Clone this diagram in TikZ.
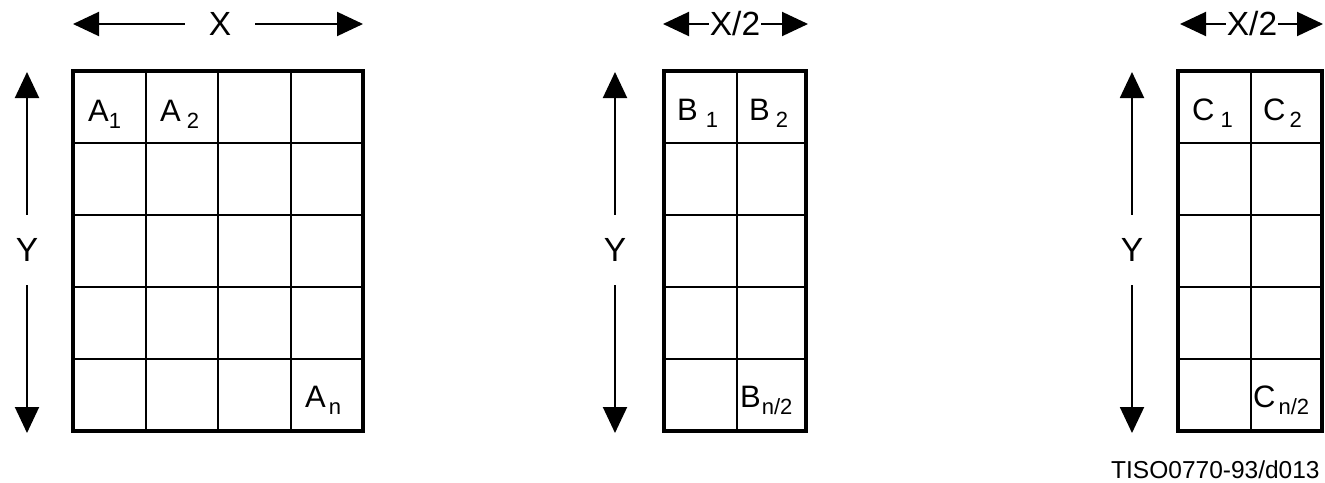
\documentclass[tikz,border=0pt]{standalone}
\usepackage{fontspec}
\setmainfont{Liberation Sans}
\usetikzlibrary{arrows.meta}
\newcommand\cellsub[3]{#1\kern#2pt\raisebox{-7pt}{\fontsize{22}{22}\selectfont #3}}
\begin{document}
\begin{tikzpicture}[x=1pt,y=-1pt,
  arr/.style={line width=2pt,-{Triangle[length=26pt,width=24pt]}},
  big/.style={font=\fontsize{33.5}{36}\selectfont,inner sep=0pt},
  cell/.style={anchor=base west,inner sep=0pt,font=\fontsize{31}{33}\selectfont},
  outerline/.style={line width=4pt},
  innerline/.style={line width=2pt}]
\useasboundingbox (0,0) rectangle (1325,482);

% ---------- Grid A ----------
\foreach \x in {145.5,218,290.5} \draw[innerline] (\x,71) -- (\x,431);
\foreach \y in {143,215,287,359} \draw[innerline] (73,\y) -- (363,\y);
\draw[outerline] (73,71) rectangle (363,431);

% ---------- Grid B ----------
\draw[innerline] (736.5,71) -- (736.5,431);
\foreach \y in {143,215,287,359} \draw[innerline] (664,\y) -- (806,\y);
\draw[outerline] (664,71) rectangle (806,431);

% ---------- Grid C ----------
\draw[innerline] (1251,71) -- (1251,431);
\foreach \y in {143,215,287,359} \draw[innerline] (1178,\y) -- (1322,\y);
\draw[outerline] (1178,71) rectangle (1322,431);

% ---------- cell labels ----------
\node[cell] (a1) at (88,121) {\cellsub{A}{0}{1}};
\node[cell] (a2) at (160,121) {\cellsub{A}{6}{2}};
\node[cell] (an) at (305,407) {\cellsub{A}{3}{n}};
\node[cell] (b1) at (677,120) {\cellsub{B}{8}{1}};
\node[cell] (b2) at (749,120) {\cellsub{B}{6}{2}};
\node[cell] (bn) at (740,407) {\cellsub{B}{1}{n/2}};
\node[cell] (c1) at (1192,120) {\cellsub{C}{6}{1}};
\node[cell] (c2) at (1263,120) {\cellsub{C}{4}{2}};
\node[cell] (cn) at (1253,407) {\cellsub{C}{3}{n/2}};

% ---------- horizontal dimension arrows ----------
\node[big,inner xsep=24pt] (xa) at (220,24) {X};
\coordinate (xal) at (73,24);
\coordinate (xar) at (363,24);
\draw[arr] (xa.west) -- (xal);
\draw[arr] (xa.east) -- (xar);

\node[big,inner xsep=1pt] (xb) at (735,24) {X/2};
\coordinate (xbl) at (663,24);
\coordinate (xbr) at (808,24);
\draw[arr] (xb.west) -- (xbl);
\draw[arr] (xb.east) -- (xbr);

\node[big,inner xsep=1pt] (xc) at (1252,24) {X/2};
\coordinate (xcl) at (1180,24);
\coordinate (xcr) at (1323,24);
\draw[arr] (xc.west) -- (xcl);
\draw[arr] (xc.east) -- (xcr);

% ---------- vertical dimension arrows ----------
\node[big,inner ysep=23.5pt] (ya) at (27,250) {Y};
\coordinate (yat) at (27,72);
\coordinate (yab) at (27,433);
\draw[arr] (ya.north) -- (yat);
\draw[arr] (ya.south) -- (yab);

\node[big,inner ysep=23.5pt] (yb) at (615,250) {Y};
\coordinate (ybt) at (615,72);
\coordinate (ybb) at (615,433);
\draw[arr] (yb.north) -- (ybt);
\draw[arr] (yb.south) -- (ybb);

\node[big,inner ysep=23.5pt] (yc) at (1132,250) {Y};
\coordinate (yct) at (1132,72);
\coordinate (ycb) at (1132,433);
\draw[arr] (yc.north) -- (yct);
\draw[arr] (yc.south) -- (ycb);

% ---------- figure code ----------
\node[anchor=base west,inner sep=0pt,font=\fontsize{24.5}{26}\selectfont] (code) at (1111,478) {TISO0770-93/d013};
\end{tikzpicture}
\end{document}
